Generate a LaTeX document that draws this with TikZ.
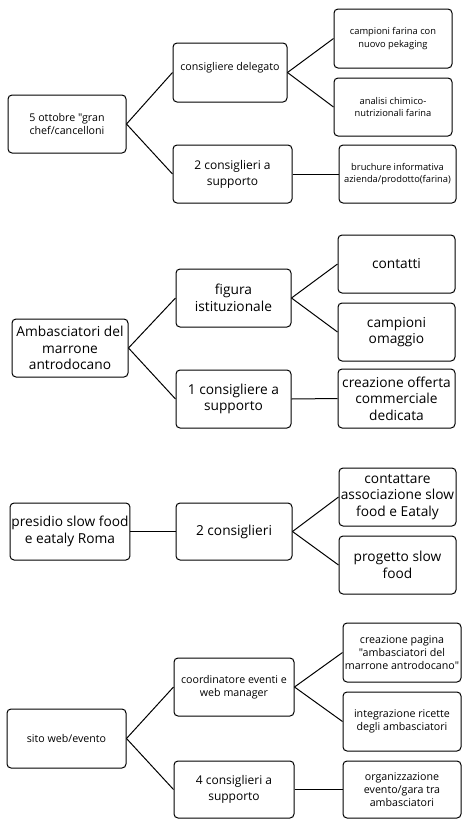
\documentclass[tikz,border=0pt]{standalone}
\usepackage{fontspec}
\setmainfont{Open Sans}[Ligatures=TeXOff]
\tikzset{
  box/.style={draw, rounded corners=3pt, line width=0.75pt, align=center, inner sep=1pt},
  sz/.style 2 args={minimum width=#1*0.75pt, minimum height=#2*0.75pt},
  fa/.style={font=\fontsize{7}{9.2}\selectfont},   % smallest text
  fb/.style={font=\fontsize{8}{10}\selectfont},
  fc/.style={font=\fontsize{9}{12}\selectfont},
  fd/.style={font=\fontsize{10.3}{12.3}\selectfont}, % big text
  link/.style={line width=0.75pt}}
\begin{document}
\begin{tikzpicture}[x=0.75pt,y=-0.75pt]
\useasboundingbox (0,0) rectangle (471,833);

% 5 ottobre
\node[box,sz={118}{58},fb] (chef) at (67,124) {5 ottobre "gran\\chef/cancelloni};
\node[box,sz={114}{59},fb,text depth=9pt] (delegato) at (230,72.5) {consigliere delegato}; % text sits high
\node[box,sz={119}{58},fc] (supA) at (232.5,174) {2 consiglieri a\\supporto};
\node[box,sz={118}{59},fa] (farina) at (393,38.5) {campioni farina con\\nuovo pekaging};
\node[box,sz={118}{58},fa] (analisi) at (393,107) {analisi chimico-\\nutrizionali farina};
\node[box,sz={117}{58},fa] (brochure) at (397.5,174) {bruchure informativa\\azienda/prodotto(farina)};
\draw[link] (chef.east) -- (delegato.west);
\draw[link] (chef.east) -- (supA.west);
\draw[link] (delegato.east) -- (farina.west);
\draw[link] (delegato.east) -- (analisi.west);
\draw[link] (supA.east) -- (brochure.west);

% Ambasciatori
\node[box,sz={116}{58},fd] (amb) at (70,348) {Ambasciatori del\\marrone\\antrodocano};
\node[box,sz={115}{58},fd] (figura) at (233.5,298) {figura\\istituzionale};
\node[box,sz={115}{58},fd] (supB) at (233.5,399) {1 consigliere a\\supporto};
\node[box,sz={117}{58},fd] (contatti) at (396.5,264) {contatti};
\node[box,sz={117}{58},fd] (omaggio) at (396.5,332) {campioni\\omaggio};
\node[box,sz={117}{59},fd] (offerta) at (396.5,398.5) {creazione offerta\\commerciale\\dedicata};
\draw[link] (amb.east) -- (figura.west);
\draw[link] (amb.east) -- (supB.west);
\draw[link] (figura.east) -- (contatti.west);
\draw[link] (figura.east) -- (omaggio.west);
\draw[link] (supB.east) -- (offerta.west);

% slow food
\node[box,sz={116}{57},fd] (presidio) at (70,531.5) {presidio slow food\\e eataly Roma};
\node[box,sz={116}{57},fd] (dueC) at (234,531.5) {2 consiglieri};
\node[box,sz={117}{58},fd] (eataly) at (397.5,497) {contattare\\associazione slow\\food e Eataly};
\node[box,sz={117}{58},fd] (progetto) at (397.5,565) {progetto slow\\food};
\draw[link] (presidio.east) -- (dueC.west);
\draw[link] (dueC.east) -- (eataly.west);
\draw[link] (dueC.east) -- (progetto.west);

% sito web
\node[box,sz={119}{59},fb] (sito) at (66.5,738.5) {sito web/evento};
\node[box,sz={120}{58},fb] (coord) at (234,687) {coordinatore eventi e\\web manager};
\node[box,sz={120}{57},fc] (supD) at (234,789.5) {4 consiglieri a\\supporto};
\node[box,sz={118}{59},fb] (pagina) at (402,652.5) {creazione pagina\\"ambasciatori del\\marrone antrodocano"};
\node[box,sz={118}{59},fb] (ricette) at (402,721.5) {integrazione ricette\\degli ambasciatori};
\node[box,sz={118}{57},fb] (gara) at (402,789.5) {organizzazione\\evento/gara tra\\ambasciatori};
\draw[link] (sito.east) -- (coord.west);
\draw[link] (sito.east) -- (supD.west);
\draw[link] (coord.east) -- (pagina.west);
\draw[link] (coord.east) -- (ricette.west);
\draw[link] (supD.east) -- (gara.west);
\end{tikzpicture}
\end{document}
